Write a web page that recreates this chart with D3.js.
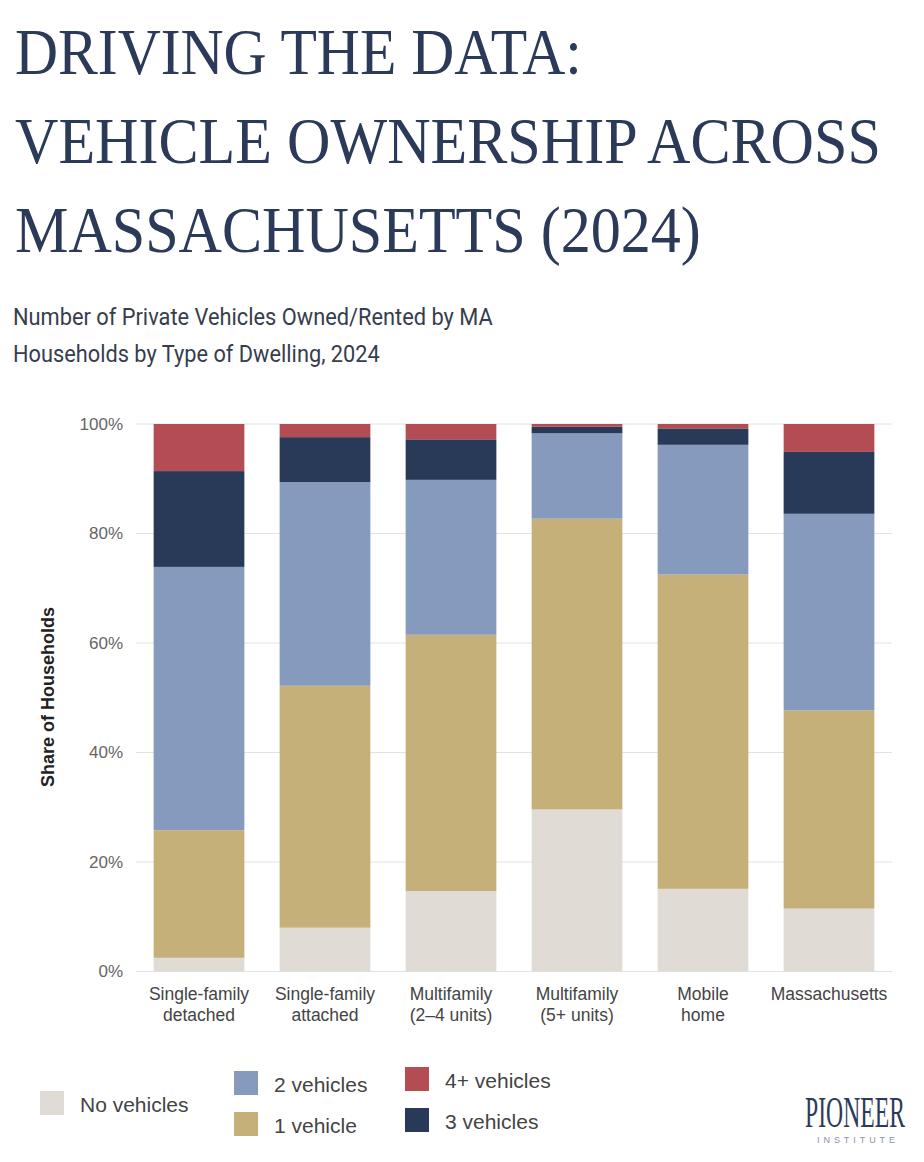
<!DOCTYPE html>
<html>
<head>
<meta charset="utf-8">
<script src="https://cdn.jsdelivr.net/npm/d3@7"></script>
<style>
  body { margin: 0; background: #fff; }
  #chart { width: 924px; height: 1162px; }
</style>
</head>
<body>
<div id="chart"></div>
<script>
// dwelling types, as shown under the bars (two lines each)
const dwellings = ["Single-family detached", "Single-family attached", "Multifamily (2–4 units)",
  "Multifamily (5+ units)", "Mobile home", "Massachusetts"];
const dwellingLines = [["Single-family", "detached"], ["Single-family", "attached"],
  ["Multifamily", "(2–4 units)"], ["Multifamily", "(5+ units)"], ["Mobile", "home"], ["Massachusetts"]];

// share of households (%)
const noVehicles = [2.5, 8.0, 14.7, 29.6, 15.1, 11.5];
const oneVehicle = [23.3, 44.2, 46.8, 53.1, 57.4, 36.2];
const twoVehicles = [48.1, 37.2, 28.3, 15.6, 23.7, 35.9];
const threeVehicles = [17.5, 8.2, 7.4, 1.2, 3.0, 11.3];
const fourPlusVehicles = [8.6, 2.4, 2.8, 0.5, 0.8, 5.1];

const seriesKeys = ["none", "one", "two", "three", "four"];
const seriesNames = ["No vehicles", "1 vehicle", "2 vehicles", "3 vehicles", "4+ vehicles"];
const yTicks = [0, 20, 40, 60, 80, 100];

const colors = {
  none: "#e0dbd4",
  one: "#c5b07a",
  two: "#869abd",
  three: "#293a58",
  four: "#b34c53",
};

const width = 924;
const height = 1162;

const rows = dwellings.map((d, i) => ({
  dwelling: d,
  none: noVehicles[i],
  one: oneVehicle[i],
  two: twoVehicles[i],
  three: threeVehicles[i],
  four: fourPlusVehicles[i],
}));

const svg = d3
  .select("#chart")
  .append("svg")
  .attr("width", width)
  .attr("height", height)
  .attr("viewBox", [0, 0, width, height]);

svg.append("rect").attr("width", width).attr("height", height).attr("fill", "#fff");

// squeeze a text horizontally to a given width (the original uses a condensed face)
function fitWidth(sel, x0, len) {
  sel.each(function (d) {
    const natural = this.getComputedTextLength();
    const w = typeof len === "function" ? len(d) : len;
    const y0 = +this.getAttribute("data-y");
    d3.select(this).attr("transform", `translate(${x0},${y0}) scale(${w / natural},1)`);
  });
}

// title
const titleLines = [
  { text: "DRIVING THE DATA:", y: 74, len: 567 },
  { text: "VEHICLE OWNERSHIP ACROSS", y: 163, len: 866 },
  { text: "MASSACHUSETTS (2024)", y: 252, len: 686 },
];
svg
  .append("g")
  .selectAll("text")
  .data(titleLines)
  .enter()
  .append("text")
  .attr("data-y", (d) => d.y)
  .attr("font-family", "Liberation Serif, serif")
  .attr("font-size", 66)
  .attr("fill", "#2c3a5a")
  .text((d) => d.text)
  .call(fitWidth, 15, (d) => d.len);

// subtitle
const subLines = [
  { text: "Number of Private Vehicles Owned/Rented by MA", y: 325, len: 480 },
  { text: "Households by Type of Dwelling, 2024", y: 362, len: 367 },
];
svg
  .append("g")
  .selectAll("text")
  .data(subLines)
  .enter()
  .append("text")
  .attr("data-y", (d) => d.y)
  .attr("font-family", "Roboto, sans-serif")
  .attr("font-size", 24)
  .attr("fill", "#363d4d")
  .text((d) => d.text)
  .call(fitWidth, 13, (d) => d.len);

// scales
const x = d3.scaleBand().domain(dwellings).range([136, 892]).paddingInner(0.28).paddingOuter(0.14);
const y = d3.scaleLinear().domain([0, 100]).range([971.5, 424]);

// gridlines
svg
  .append("g")
  .selectAll("line")
  .data(yTicks)
  .enter()
  .append("line")
  .attr("x1", 136)
  .attr("x2", 892)
  .attr("y1", (d) => y(d))
  .attr("y2", (d) => y(d))
  .attr("stroke", "#e2e2e2")
  .attr("stroke-width", 1);

// y axis labels
const yAxis = svg
  .append("g")
  .attr("transform", "translate(136,0)")
  .call(d3.axisLeft(y).tickValues(yTicks).tickFormat((d) => d + "%").tickSize(0).tickPadding(13));
yAxis.select(".domain").remove();
yAxis
  .selectAll("text")
  .attr("font-family", "Liberation Sans, Arial, sans-serif")
  .attr("font-size", 17)
  .attr("fill", "#666");

svg
  .append("text")
  .attr("transform", "translate(54,697) rotate(-90)")
  .attr("text-anchor", "middle")
  .attr("font-family", "Liberation Sans, Arial, sans-serif")
  .attr("font-size", 18)
  .attr("font-weight", "bold")
  .attr("fill", "#222")
  .text("Share of Households");

// stacked bars
const stacked = d3.stack().keys(seriesKeys)(rows);
svg
  .append("g")
  .selectAll("g")
  .data(stacked)
  .enter()
  .append("g")
  .attr("fill", (d) => colors[d.key])
  .selectAll("rect")
  .data((d) => d)
  .enter()
  .append("rect")
  .attr("x", (d) => x(d.data.dwelling))
  .attr("y", (d) => y(d[1]))
  .attr("height", (d) => y(d[0]) - y(d[1]))
  .attr("width", x.bandwidth());

// x labels
const xLabels = svg
  .append("g")
  .selectAll("text")
  .data(dwellings)
  .enter()
  .append("text")
  .attr("text-anchor", "middle")
  .attr("font-family", "Liberation Sans, Arial, sans-serif")
  .attr("font-size", 17.5)
  .attr("fill", "#444");
xLabels
  .selectAll("tspan")
  .data((d, i) => dwellingLines[i].map((t) => ({ t, cx: x(d) + x.bandwidth() / 2 })))
  .enter()
  .append("tspan")
  .attr("x", (d) => d.cx)
  .attr("y", (d, j) => 1000 + j * 21)
  .text((d) => d.t);

// legend
const legendItems = [
  { key: "none", sx: 40, sy: 1091, ty: 1112 },
  { key: "two", sx: 234, sy: 1071, ty: 1092 },
  { key: "one", sx: 234, sy: 1112, ty: 1133 },
  { key: "four", sx: 405, sy: 1067, ty: 1088 },
  { key: "three", sx: 405, sy: 1108, ty: 1129 },
];
const legend = svg.append("g");
legend
  .selectAll("rect")
  .data(legendItems)
  .enter()
  .append("rect")
  .attr("x", (d) => d.sx)
  .attr("y", (d) => d.sy)
  .attr("width", 24)
  .attr("height", 24)
  .attr("fill", (d) => colors[d.key]);
legend
  .selectAll("text")
  .data(legendItems)
  .enter()
  .append("text")
  .attr("x", (d) => d.sx + 40)
  .attr("y", (d) => d.ty)
  .attr("font-family", "Liberation Sans, Arial, sans-serif")
  .attr("font-size", 21)
  .attr("fill", "#444")
  .text((d) => seriesNames[seriesKeys.indexOf(d.key)]);

// logo
svg
  .append("text")
  .attr("data-y", 1127)
  .attr("font-family", "Liberation Serif, serif")
  .attr("font-size", 44)
  .attr("fill", "#2c3a5a")
  .text("PIONEER")
  .call(fitWidth, 805, 100);
svg
  .append("text")
  .attr("x", 817)
  .attr("y", 1143)
  .attr("textLength", 78)
  .attr("lengthAdjust", "spacing")
  .attr("font-family", "Liberation Sans, Arial, sans-serif")
  .attr("font-size", 9)
  .attr("fill", "#8a94a8")
  .text("INSTITUTE");
</script>
</body>
</html>
